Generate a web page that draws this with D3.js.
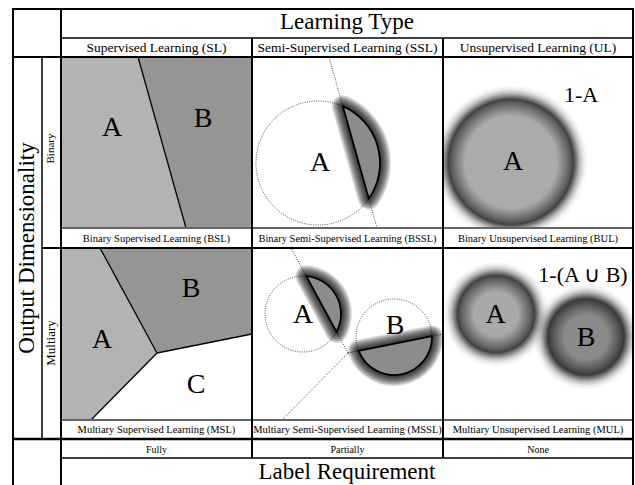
<!DOCTYPE html>
<html><head><meta charset="utf-8">
<script src="https://cdn.jsdelivr.net/npm/d3@7"></script>
<style>body{margin:0;background:#fff}svg{display:block}</style>
</head><body>
<script>
// ---- data ----
const learningTypes = ["Supervised Learning (SL)", "Semi-Supervised Learning (SSL)", "Unsupervised Learning (UL)"];
const dimensionalities = ["Binary", "Multiary"];
const cellLabels = [
  ["Binary Supervised Learning (BSL)", "Binary Semi-Supervised Learning (BSSL)", "Binary Unsupervised Learning (BUL)"],
  ["Multiary Supervised Learning (MSL)", "Multiary Semi-Supervised Learning (MSSL)", "Multiary Unsupervised Learning (MUL)"]
];
const labelRequirements = ["Fully", "Partially", "None"];
const topTitle = "Learning Type";
const leftTitle = "Output Dimensionality";
const bottomTitle = "Label Requirement";

// geometry in panel-local units
const binaryBoundary = [[77, 0], [125, 171]];
const multiaryJunction = [96, 105];
const multiaryEnds = [[39, 0], [191, 86], [30, 172]];
const bsslCircle = {cx: 66, cy: 106, r: 62};
const bulCircle = {cx: 68, cy: 105, r: 62};
const msslCircles = [{cx: 51, cy: 66, r: 38}, {cx: 142, cy: 89, r: 38}];
const mulCircles = [{cx: 53, cy: 66, r: 38}, {cx: 143, cy: 89, r: 38}];
const bslLetters = [["A", 51, 79], ["B", 142, 70]];
const bsslLetters = [["A", 68, 114]];
const bulLetters = [["A", 70, 113]];
const bulComplement = ["1-A", 138, 45];
const mslLetters = [["A", 41, 100], ["B", 130, 49], ["C", 135, 145]];
const msslLetters = [["A", 51, 75], ["B", 143, 86]];
const mulLetters = [["A", 52.5, 75], ["B", 143, 98]];
const mulComplement = ["1-(A \u222A B)", 140, 34];

// ---- layout ----
const W = 635, H = 485;
const font = "Liberation Serif";
const colX = [61, 252, 443, 633];
const rowY = [[57, 228], [248, 420]];

const svg = d3.select("body").append("svg").attr("width", W).attr("height", H)
  .attr("font-family", font);
const defs = svg.append("defs");

function makePanel(c, r) {
  const x0 = colX[c], x1 = colX[c + 1], y0 = rowY[r][0], y1 = rowY[r][1];
  const id = `clip${c}${r}`;
  defs.append("clipPath").attr("id", id).append("rect")
    .attr("x", x0).attr("y", y0).attr("width", x1 - x0).attr("height", y1 - y0);
  const g = svg.append("g").attr("clip-path", `url(#${id})`);
  const x = d3.scaleLinear().domain([0, x1 - x0]).range([x0, x1]);
  const y = d3.scaleLinear().domain([0, y1 - y0]).range([y0, y1]);
  return {g, x, y};
}
const line = (p) => d3.line().x(d => p.x(d[0])).y(d => p.y(d[1]));

function letters(p, arr, size) {
  p.g.selectAll(null).data(arr).enter().append("text")
    .attr("x", d => p.x(d[1])).attr("y", d => p.y(d[2]))
    .attr("text-anchor", "middle").attr("font-size", size || 28).attr("fill", "#000")
    .text(d => d[0]);
}

function segmentPath(p, circ, seg) {
  const cx = p.x(circ.cx), cy = p.y(circ.cy), r = p.x(circ.r) - p.x(0);
  const ax = p.x(seg[0][0]), ay = p.y(seg[0][1]), bx = p.x(seg[1][0]), by = p.y(seg[1][1]);
  let dx = bx - ax, dy = by - ay; const L = Math.hypot(dx, dy); dx /= L; dy /= L;
  const t = (cx - ax) * dx + (cy - ay) * dy;
  const fx = ax + t * dx, fy = ay + t * dy;
  const h = Math.hypot(fx - cx, fy - cy), s = Math.sqrt(r * r - h * h);
  const p1 = [fx - s * dx, fy - s * dy], p2 = [fx + s * dx, fy + s * dy];
  const a1 = Math.atan2(p1[1] - cy, p1[0] - cx), a2 = Math.atan2(p2[1] - cy, p2[0] - cx);
  let d = a2 - a1; while (d > Math.PI) d -= 2 * Math.PI; while (d <= -Math.PI) d += 2 * Math.PI;
  const path = d3.path(); path.moveTo(p1[0], p1[1]); path.arc(cx, cy, r, a1, a2, d < 0); path.closePath();
  return path.toString();
}
function dottedCircle(p, c) {
  p.g.append("circle").attr("cx", p.x(c.cx)).attr("cy", p.y(c.cy)).attr("r", p.x(c.r) - p.x(0))
    .attr("fill", "none").attr("stroke", "#222").attr("stroke-width", 0.8).attr("stroke-dasharray", "1,1.3");
}
function dottedLine(p, pts) {
  p.g.append("path").attr("d", line(p)(pts)).attr("fill", "none")
    .attr("stroke", "#222").attr("stroke-width", 0.8).attr("stroke-dasharray", "1,1.3");
}
// soft shadow made of stacked translucent strokes
function strokeShadow(p, d) {
  const sg = p.g.append("g").attr("fill", "none").attr("stroke", "#000")
    .attr("stroke-linejoin", "round").attr("stroke-linecap", "round");
  d3.range(1, 12).forEach(i => {
    sg.append("path").attr("d", d).attr("stroke-width", i * 2.0).attr("stroke-opacity", 0.12);
  });
}
function segment(p, c, seg) {
  const d = segmentPath(p, c, seg);
  strokeShadow(p, d);
  p.g.append("path").attr("d", d).attr("fill", "#8c8c8c").attr("stroke", "#000")
    .attr("stroke-width", 1.8).attr("stroke-linejoin", "round");
}
let gradN = 0;
function softCircle(p, c, inner, edge) {
  const r = p.x(c.r) - p.x(0), R = r + 15;
  const sid = "sh" + gradN, id = "rg" + (gradN++);
  const sh = defs.append("radialGradient").attr("id", sid);
  [[0, 0.85], [(r - 1) / R, 0.85], [(r + 3) / R, 0.55], [(r + 7) / R, 0.25], [(r + 11) / R, 0.07], [1, 0]]
    .forEach(s => sh.append("stop").attr("offset", s[0]).attr("stop-color", "#000").attr("stop-opacity", s[1]));
  const gr = defs.append("radialGradient").attr("id", id);
  gr.append("stop").attr("offset", 0).attr("stop-color", inner);
  gr.append("stop").attr("offset", 1 - 16 / r).attr("stop-color", inner);
  gr.append("stop").attr("offset", 1 - 6 / r).attr("stop-color", d3.interpolateRgb(inner, edge)(0.6));
  gr.append("stop").attr("offset", 1).attr("stop-color", edge);
  p.g.append("circle").attr("cx", p.x(c.cx)).attr("cy", p.y(c.cy)).attr("r", R).attr("fill", `url(#${sid})`);
  p.g.append("circle").attr("cx", p.x(c.cx)).attr("cy", p.y(c.cy)).attr("r", r)
    .attr("fill", `url(#${id})`);
}

// ---- BSL ----
{
  const p = makePanel(0, 0);
  const [t, b] = binaryBoundary;
  p.g.append("path").attr("d", line(p)([[0, 0], t, b, [0, 171]]) + "Z").attr("fill", "#b3b3b3");
  p.g.append("path").attr("d", line(p)([t, [191, 0], [191, 171], b]) + "Z").attr("fill", "#959595");
  p.g.append("path").attr("d", line(p)(binaryBoundary)).attr("stroke", "#000").attr("stroke-width", 1.3).attr("fill", "none");
  letters(p, bslLetters);
}
// ---- BSSL ----
{
  const p = makePanel(1, 0);
  dottedCircle(p, bsslCircle);
  dottedLine(p, binaryBoundary);
  segment(p, bsslCircle, binaryBoundary);
  letters(p, bsslLetters);
}
// ---- BUL ----
{
  const p = makePanel(2, 0);
  softCircle(p, bulCircle, "#ababab", "#4a4a4a");
  letters(p, bulLetters);
  letters(p, [bulComplement], 22);
}
// ---- MSL ----
{
  const p = makePanel(0, 1);
  const J = multiaryJunction, [eT, eR, eB] = multiaryEnds;
  p.g.append("path").attr("d", line(p)([[0, 0], eT, J, eB, [0, 172]]) + "Z").attr("fill", "#b3b3b3");
  p.g.append("path").attr("d", line(p)([eT, [191, 0], eR, J]) + "Z").attr("fill", "#959595");
  multiaryEnds.forEach(e => p.g.append("path").attr("d", line(p)([J, e])).attr("stroke", "#000").attr("stroke-width", 1.3).attr("fill", "none"));
  letters(p, mslLetters);
}
// ---- MSSL ----
{
  const p = makePanel(1, 1);
  const J = multiaryJunction;
  multiaryEnds.forEach(e => dottedLine(p, [J, e]));
  msslCircles.forEach(c => dottedCircle(p, c));
  segment(p, msslCircles[0], [multiaryEnds[0], J]);
  segment(p, msslCircles[1], [J, multiaryEnds[1]]);
  letters(p, msslLetters);
}
// ---- MUL ----
{
  const p = makePanel(2, 1);
  softCircle(p, mulCircles[0], "#a9a9a9", "#4a4a4a");
  softCircle(p, mulCircles[1], "#8a8a8a", "#3a3a3a");
  letters(p, mulLetters);
  letters(p, [mulComplement], 22);
}

// ---- grid lines ----
const gl = svg.append("g").attr("fill", "none");
function hl(y, xa, xb, w, col) { gl.append("line").attr("x1", xa).attr("x2", xb).attr("y1", y).attr("y2", y).attr("stroke", col || "#000").attr("stroke-width", w); }
function vl(x, ya, yb, w, col) { gl.append("line").attr("x1", x).attr("x2", x).attr("y1", ya).attr("y2", yb).attr("stroke", col || "#000").attr("stroke-width", w); }
hl(38, 61, 633, 1.5);
hl(57, 13, 633, 2);
hl(228, 61, 633, 1.8, "#666");
hl(248, 42, 633, 2);
hl(420, 61, 633, 1.8, "#666");
hl(439, 13, 633, 2.6);
hl(458, 61, 633, 1.5);
vl(42, 57, 439, 1.5);
vl(61, 9, 490, 2);
vl(252, 38, 458, 2);
vl(443, 38, 458, 2);
gl.append("rect").attr("x", 13).attr("y", 9).attr("width", 620).attr("height", 490)
  .attr("stroke", "#000").attr("stroke-width", 2);

// ---- texts ----
const tx = svg.append("g").attr("fill", "#000").attr("text-anchor", "middle");
const colC = [0, 1, 2].map(i => (colX[i] + colX[i + 1]) / 2);
tx.append("text").attr("x", (colX[0] + colX[3]) / 2).attr("y", 29).attr("font-size", 23).text(topTitle);
tx.selectAll(null).data(learningTypes).enter().append("text")
  .attr("x", (d, i) => colC[i]).attr("y", 52).attr("font-size", 13.5).text(d => d);
cellLabels.forEach((row, r) => {
  tx.selectAll(null).data(row).enter().append("text")
    .attr("x", (d, i) => colC[i]).attr("y", r === 0 ? 242 : 433).attr("font-size", 10.5).text(d => d);
});
tx.selectAll(null).data(labelRequirements).enter().append("text")
  .attr("x", (d, i) => colC[i]).attr("y", 453).attr("font-size", 10).text(d => d);
tx.append("text").attr("x", (colX[0] + colX[3]) / 2).attr("y", 479).attr("font-size", 23).text(bottomTitle);
tx.append("text").attr("transform", "translate(34,248) rotate(-90)").attr("font-size", 23).text(leftTitle);
tx.selectAll(null).data(dimensionalities).enter().append("text")
  .attr("transform", (d, i) => i === 0 ? "translate(54,148.5) rotate(-90)" : "translate(55,343) rotate(-90)")
  .attr("font-size", (d, i) => i === 0 ? 11 : 13).text(d => d);
</script>
</body></html>
